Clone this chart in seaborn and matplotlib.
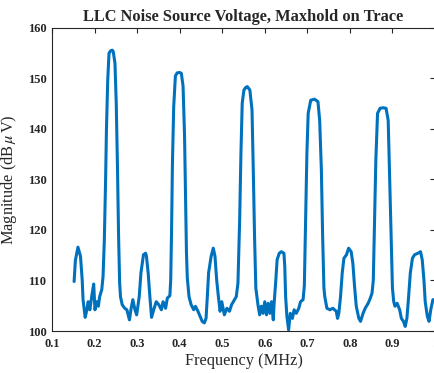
import numpy as np
import pandas as pd
import matplotlib
matplotlib.use("Agg")
import matplotlib.pyplot as plt
import seaborn as sns

# === DATA
freq_mhz = [
    0.152, 0.155, 0.161, 0.167, 0.171, 0.173, 0.178, 0.182, 0.185, 0.189,
    0.194, 0.198, 0.201, 0.205, 0.209, 0.212, 0.217, 0.220, 0.223, 0.226,
    0.228, 0.231, 0.234, 0.238, 0.242, 0.244, 0.248, 0.251, 0.254, 0.2565,
    0.259, 0.261, 0.265, 0.271, 0.276, 0.282, 0.286, 0.290, 0.295, 0.299,
    0.305, 0.309, 0.315, 0.320, 0.322, 0.326, 0.330, 0.334, 0.339, 0.345,
    0.351, 0.357, 0.361, 0.367, 0.371, 0.377, 0.379, 0.381, 0.383, 0.386,
    0.390, 0.394, 0.400, 0.404, 0.408, 0.4115, 0.414, 0.416, 0.418, 0.422,
    0.427, 0.433, 0.437, 0.443, 0.448, 0.453, 0.458, 0.462, 0.465, 0.468,
    0.474, 0.479, 0.483, 0.487, 0.491, 0.495, 0.499, 0.505, 0.511, 0.517,
    0.522, 0.529, 0.533, 0.537, 0.541, 0.544, 0.547, 0.551, 0.555, 0.559,
    0.565, 0.570, 0.573, 0.576, 0.579, 0.584, 0.588, 0.592, 0.596, 0.600,
    0.604, 0.608, 0.612, 0.616, 0.620, 0.622, 0.626, 0.629, 0.634, 0.639,
    0.645, 0.647, 0.649, 0.652, 0.656, 0.660, 0.665, 0.669, 0.674, 0.680,
    0.684, 0.690, 0.693, 0.696, 0.699, 0.702, 0.708, 0.717, 0.725, 0.729,
    0.733, 0.736, 0.739, 0.741, 0.746, 0.753, 0.760, 0.764, 0.768, 0.771,
    0.774, 0.778, 0.782, 0.786, 0.792, 0.797, 0.803, 0.807, 0.811, 0.815,
    0.821, 0.825, 0.831, 0.836, 0.843, 0.848, 0.852, 0.855, 0.858, 0.861,
    0.865, 0.871, 0.878, 0.885, 0.890, 0.893, 0.897, 0.900, 0.903, 0.906,
    0.911, 0.917, 0.921, 0.926, 0.930, 0.934, 0.938, 0.942, 0.947, 0.952,
    0.960, 0.966, 0.970, 0.974, 0.977, 0.982, 0.986, 0.990, 0.995, 0.999,
]
magnitude_dbuv = [
    109.8, 114.0, 116.6, 114.8, 110.1, 106.2, 102.7, 104.2, 105.8, 104.2,
    107.2, 109.3, 104.2, 105.8, 104.9, 106.8, 108.2, 110.8, 118.0, 130.0,
    140.0, 149.7, 155.0, 155.5, 155.6, 155.3, 153.0, 145.1, 131.9, 118.7,
    109.5, 106.8, 105.2, 104.5, 104.2, 102.2, 104.5, 106.2, 104.2, 103.2,
    106.8, 111.5, 115.1, 115.4, 114.8, 111.5, 106.8, 102.7, 104.2, 105.8,
    105.2, 104.2, 105.8, 104.5, 106.5, 107.0, 110.1, 120.0, 133.0, 144.4,
    150.5, 151.1, 151.2, 151.0, 148.5, 138.6, 125.4, 115.5, 110.5, 106.8,
    105.2, 104.2, 104.9, 103.9, 102.9, 101.9, 101.6, 102.5, 106.8, 111.5,
    114.8, 116.4, 114.8, 110.1, 106.8, 103.9, 105.8, 103.2, 104.5, 103.9,
    105.2, 106.2, 106.8, 109.5, 122.0, 135.2, 145.1, 147.7, 148.2, 148.4,
    147.7, 143.8, 131.9, 118.7, 108.5, 105.2, 103.2, 104.9, 103.5, 105.8,
    103.2, 105.5, 103.5, 105.8, 102.2, 105.5, 110.1, 114.1, 115.4, 115.7,
    115.4, 112.8, 106.8, 102.9, 100.2, 103.5, 102.5, 104.2, 103.5, 104.5,
    105.8, 106.2, 109.0, 122.0, 135.2, 143.1, 145.7, 145.9, 145.4, 141.7,
    131.9, 118.7, 108.5, 106.8, 104.5, 104.2, 104.5, 104.2, 103.9, 102.5,
    103.5, 106.8, 111.5, 114.4, 115.1, 116.4, 115.7, 113.4, 108.8, 104.9,
    102.5, 101.9, 103.5, 104.5, 105.5, 106.5, 107.5, 110.0, 122.0, 133.9,
    143.1, 144.1, 144.2, 144.1, 141.7, 131.9, 118.7, 108.5, 105.8, 104.9,
    105.5, 104.2, 102.5, 101.9, 100.9, 102.5, 106.8, 111.5, 114.4, 115.1,
    115.4, 115.7, 114.1, 110.1, 105.8, 102.9, 101.9, 104.2, 106.2, 106.2,
]
x_ticks = [0.1, 0.2, 0.3, 0.4, 0.5, 0.6, 0.7, 0.8, 0.9, 1.0]
x_tick_labels = ["0.1", "0.2", "0.3", "0.4", "0.5", "0.6", "0.7", "0.8", "0.9", "1"]
y_ticks = [100, 110, 120, 130, 140, 150, 160]

df = pd.DataFrame({"Frequency": freq_mhz, "Magnitude": magnitude_dbuv})

# === STYLE
sns.set_style("white")
plt.rcParams["font.family"] = ["Liberation Serif", "DejaVu Serif"]
plt.rcParams["mathtext.fontset"] = "stix"

fig = plt.figure(figsize=(4.35, 3.73), dpi=100)
ax = fig.add_axes([0.1195, 0.1126, 0.8805, 0.8124])

sns.lineplot(data=df, x="Frequency", y="Magnitude", sort=False, estimator=None,
             color="#0072BD", linewidth=2.2, ax=ax)

ax.set_xlim(0.1, 1.0)
ax.set_ylim(100, 160)
ax.set_xticks(x_ticks)
ax.set_xticklabels(x_tick_labels, fontweight="bold")
ax.set_yticks(y_ticks)
ax.set_yticklabels([str(v) for v in y_ticks], fontweight="bold")
ax.tick_params(direction="in", length=3.5, width=0.8, top=True, right=True,
               labelsize=9, colors="#262626")
ax.tick_params(axis="x", pad=5)
ax.tick_params(axis="y", pad=4)
for sp in ax.spines.values():
    sp.set_color("#262626")
    sp.set_linewidth(0.8)

ax.set_title("LLC Noise Source Voltage, Maxhold on Trace", fontsize=11.8,
             fontweight="bold", pad=5)
ax.set_xlabel("Frequency (MHz)", fontsize=11.8, labelpad=2)
ax.set_ylabel(r"Magnitude (dB$\,\mu\,$V)", fontsize=11.8)
ax.yaxis.set_label_coords(-0.085, 0.5)

fig.savefig("out.png", dpi=100)
